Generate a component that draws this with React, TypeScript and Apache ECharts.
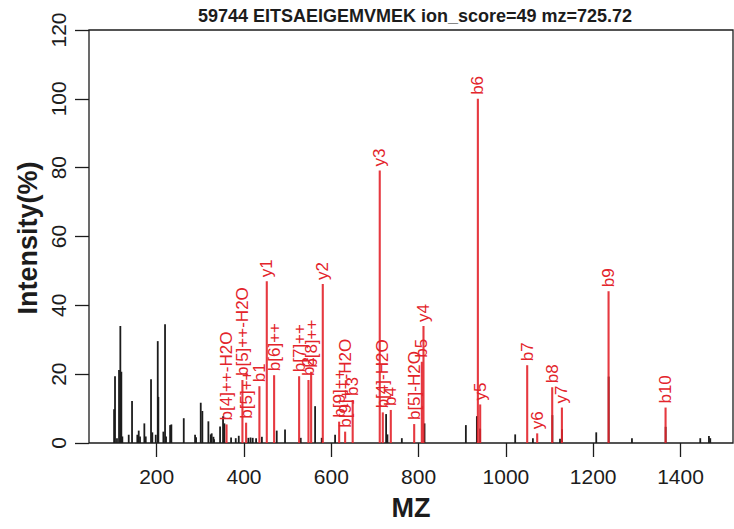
import React, { useEffect, useRef } from "react";
import * as echarts from "echarts";

// ---- data ----
const titleText = "59744 EITSAEIGEMVMEK ion_score=49 mz=725.72";
const xTicks = [200, 400, 600, 800, 1000, 1200, 1400];

// unannotated peaks (black)
const mzBlack = [
  102.4, 104.5, 109, 113.7, 116.7, 119, 121.3, 135.9, 143.5, 155.6, 158.8, 161.8,
  171.7, 174.9, 187, 190, 197.8, 202.4, 203.8, 215.3, 219.1, 221.4, 230.7, 233.6,
  262, 287.9, 290.2, 300.9, 304.6, 318.4, 323.8, 326, 330, 331.4, 345.2, 352, 355,
  370.4, 381.1, 388, 410, 415, 420, 427.7, 441, 475, 494, 530, 562.9, 578, 608.7,
  725.6, 728.6, 761.6, 813.6, 908.3, 933.5, 941, 1021.3, 1061.9, 1106.5, 1124,
  1128.5, 1207, 1235.5, 1288.8, 1366, 1445.3, 1465.2, 1468.2,
];
const intBlack = [
  9.8, 19.4, 1.4, 21.2, 34.0, 20.7, 1.9, 2.4, 12.2, 2.4, 3.6, 1.9,
  5.7, 1.9, 18.5, 3.1, 2.4, 29.6, 13.4, 3.3, 34.5, 1.9, 5.2, 5.4,
  7.2, 2.4, 1.7, 11.7, 9.3, 6.3, 2.5, 2.8, 1.8, 1.1, 4.8, 7.8, 5.7,
  1.6, 1.4, 2.1, 1.5, 1.6, 1.5, 1.4, 1.8, 3.6, 3.9, 1.5, 10.7, 1.5, 2.4,
  8.4, 2.5, 1.4, 5.7, 5.2, 7.8, 4.2, 2.5, 1.4, 8.1, 1.2,
  4.0, 3.1, 19.3, 1.4, 4.7, 1.4, 2.0, 1.4,
];

// annotated fragment ions (red)
const redLabels = [
  "b[4]++-H2O", "b[5]++-H2O", "b[5]++", "b1", "y1", "b[6]++", "b[7]++", "b2", "b[8]++",
  "y2", "b[9]++", "b[9]++-H2O", "b3", "y3", "b[4]-H2O", "b4", "b[5]-H2O", "b5", "y4",
  "b6", "y5", "b7", "y6", "b8", "y7", "b9", "b10",
];
const mzRed = [
  360, 396.4, 404.8, 435.3, 452.2, 469, 526.3, 547.7, 553.8,
  580.5, 618, 631.7, 649, 711, 718, 736.3, 789.9, 807.4, 811.2,
  935.8, 941.1, 1048.8, 1071.7, 1106.1, 1128.3, 1235.2, 1365.8,
];
const intRed = [
  5.4, 18.3, 5.9, 16.5, 47.0, 19.7, 19.4, 18.3, 20.7,
  46.2, 6.2, 3.3, 12.5, 79.2, 8.9, 9.6, 5.5, 23.6, 34.0,
  100, 11.2, 22.6, 2.8, 16.2, 10.3, 44.1, 10.3,
];

const FONT = '"Liberation Sans", Arial, Helvetica, sans-serif';
const RED = "#e3242b";
const INK = "#1c1c1c";

export default function App() {
  const ref = useRef<HTMLDivElement>(null);

  useEffect(() => {
    if (!ref.current) return;
    const chart = echarts.init(ref.current, undefined, { renderer: "svg" });

    const blackData = mzBlack.map((m, i) => [m, intBlack[i]]);
    const redData = mzRed.map((m, i) => [m, intRed[i]]);

    const option: any = {
      animation: false,
      backgroundColor: "#ffffff",
      grid: {
        left: 89,
        right: 1,
        top: 30,
        bottom: 86,
        show: true,
        borderColor: INK,
        borderWidth: 1.3,
        backgroundColor: "transparent",
      },
      xAxis: {
        type: "value",
        min: 44.9,
        max: 1520.3,
        axisLine: { show: false },
        splitLine: { show: false },
        axisTick: {
          show: true,
          length: 14,
          customValues: xTicks,
          lineStyle: { color: INK, width: 1.3 },
        },
        axisLabel: {
          customValues: xTicks,
          formatter: (v: number) => String(v),
          fontSize: 21,
          fontFamily: FONT,
          color: INK,
          margin: 23,
        },
      },
      yAxis: {
        type: "value",
        min: 0,
        max: 120,
        interval: 20,
        axisLine: { show: false },
        splitLine: { show: false },
        axisTick: { show: true, length: 14, lineStyle: { color: INK, width: 1.3 } },
        axisLabel: {
          rotate: 90,
          formatter: (v: number) => String(v),
          fontSize: 21,
          fontFamily: FONT,
          color: INK,
          margin: 20,
        },
      },
      series: [
        {
          type: "custom",
          data: blackData,
          z: 2,
          renderItem: (params: any, api: any) => {
            const p0 = api.coord([api.value(0), 0]);
            const p1 = api.coord([api.value(0), api.value(1)]);
            return {
              type: "line",
              shape: { x1: p0[0], y1: p0[1], x2: p1[0], y2: p1[1] },
              style: { stroke: INK, lineWidth: 1.8 },
            };
          },
        },
        {
          type: "custom",
          data: redData,
          z: 3,
          renderItem: (params: any, api: any) => {
            const p0 = api.coord([api.value(0), 0]);
            const p1 = api.coord([api.value(0), api.value(1)]);
            const label = redLabels[params.dataIndex];
            return {
              type: "group",
              children: [
                {
                  type: "line",
                  shape: { x1: p0[0], y1: p0[1], x2: p1[0], y2: p1[1] },
                  style: { stroke: RED, lineWidth: 2.1, opacity: 0.9 },
                },
                {
                  type: "text",
                  x: p1[0],
                  y: p1[1] - 4,
                  rotation: Math.PI / 2,
                  style: {
                    text: label,
                    fill: RED,
                    font: `17px ${FONT}`,
                    align: "left",
                    verticalAlign: "middle",
                    textAlign: "left",
                    textVerticalAlign: "middle",
                  },
                },
              ],
            };
          },
        },
      ],
      graphic: [
        {
          type: "text",
          x: 415,
          y: 16,
          style: {
            text: titleText,
            fill: INK,
            font: `bold 18px ${FONT}`,
            align: "center",
            verticalAlign: "middle",
            textAlign: "center",
            textVerticalAlign: "middle",
          },
        },
        {
          type: "text",
          x: 411,
          y: 508,
          style: {
            text: "MZ",
            fill: INK,
            font: `bold 27px ${FONT}`,
            align: "center",
            verticalAlign: "middle",
            textAlign: "center",
            textVerticalAlign: "middle",
          },
        },
        {
          type: "text",
          x: 28,
          y: 238,
          rotation: Math.PI / 2,
          style: {
            text: "Intensity(%)",
            fill: INK,
            font: `bold 27px ${FONT}`,
            align: "center",
            verticalAlign: "middle",
            textAlign: "center",
            textVerticalAlign: "middle",
          },
        },
      ],
    };

    chart.setOption(option);
    return () => chart.dispose();
  }, []);

  return (
    <div
      ref={ref}
      style={{ position: "absolute", left: 0, top: 0, width: 734, height: 529, background: "#fff" }}
    />
  );
}
